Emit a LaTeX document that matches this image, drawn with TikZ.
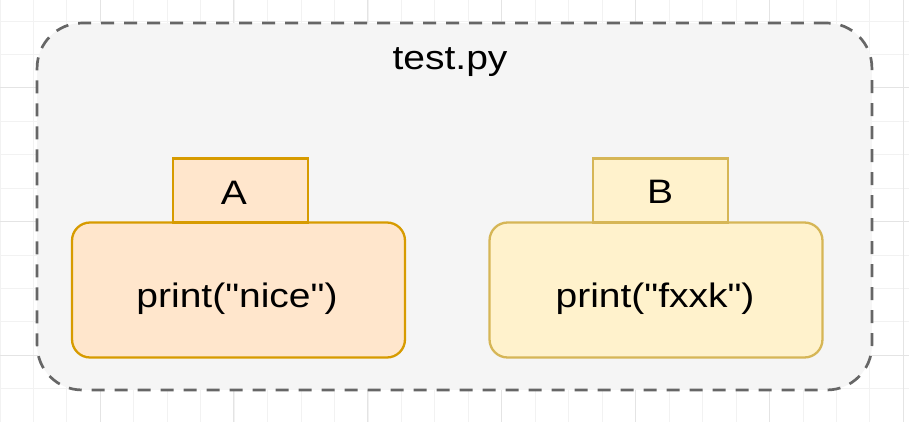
\documentclass[tikz,border=0pt]{standalone}
\usepackage{fontspec}
\setmainfont[FakeStretch=1.15,Ligatures=TeXOff]{Liberation Sans}
\usetikzlibrary{positioning}
\definecolor{mygrid}{RGB}{242,242,242}
\definecolor{mygriddark}{RGB}{228,228,228}
\definecolor{myframe}{RGB}{102,102,102}
\definecolor{myframefill}{RGB}{245,245,245}
\definecolor{myorange}{RGB}{215,155,0}
\definecolor{myorangepale}{RGB}{255,230,204}
\definecolor{myyellow}{RGB}{214,182,86}
\definecolor{myyellowpale}{RGB}{255,242,204}
\tikzset{
  filebox/.style={rectangle,draw=myframe,fill=myframefill,line width=0.054cm,
    dash pattern=on 0.26cm off 0.2cm,rounded corners=0.9cm,
    minimum width=16.7cm,minimum height=7.34cm,inner sep=0pt},
  body/.style={rectangle,rounded corners=0.36cm,line width=0.046cm,
    minimum width=6.66cm,minimum height=2.7cm,inner sep=0pt},
  tab/.style={rectangle,line width=0.046cm,
    minimum width=2.7cm,minimum height=1.28cm,inner sep=0pt},
  bodya/.style={body,draw=myorange,fill=myorangepale},
  taba/.style={tab,draw=myorange,fill=myorangepale},
  bodyb/.style={body,draw=myyellow,fill=myyellowpale},
  tabb/.style={tab,draw=myyellow,fill=myyellowpale},
  txt/.style={font=\fontsize{19.3}{23}\selectfont,inner sep=0pt},
}
\begin{document}
\begin{tikzpicture}[x=0.02cm,y=-0.02cm]
  \useasboundingbox[fill=white] (0,0) rectangle (909,422);
  % grid
  \foreach \i in {0,...,27} {
    \draw[mygrid,line width=0.02cm] ({\i*33.46},0) -- ({\i*33.46},422);
  }
  \foreach \j in {0,...,13} {
    \draw[mygrid,line width=0.02cm] (0,{-12.2+\j*33.4}) -- (909,{-12.2+\j*33.4});
  }
  \foreach \i in {0,...,6} {
    \draw[mygriddark,line width=0.02cm] ({100+\i*133.84},0) -- ({100+\i*133.84},422);
  }
  \foreach \j in {0,...,2} {
    \draw[mygriddark,line width=0.02cm] (0,{88+\j*133.6}) -- (909,{88+\j*133.6});
  }
  % file
  \node[filebox] (file) at (454.5,206.5) {};
  \node[txt] (title) at (450,62.5) {test.py};
  % module A
  \node[bodya] (bodya) at (238.5,290) {};
  \node[taba,above=-0.046cm of bodya,xshift=0.04cm] (taba) {};
  \node[txt] (namea) at (234,193) {A};
  \node[txt] (codea) at (237,299) {print("nice")};
  % module B
  \node[bodyb] (bodyb) at (656,290) {};
  \node[tabb,above=-0.046cm of bodyb,xshift=0.09cm] (tabb) {};
  \node[txt] (nameb) at (660,192) {B};
  \node[txt] (codeb) at (655,299) {print("fxxk")};
\end{tikzpicture}
\end{document}
